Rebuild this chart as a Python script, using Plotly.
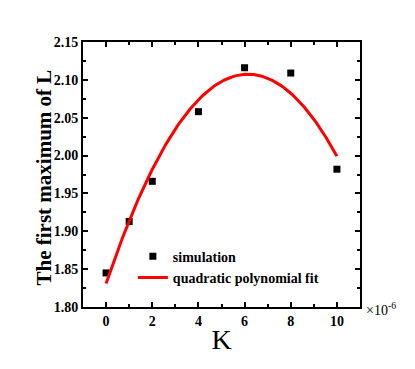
import numpy as np
import plotly.graph_objects as go

k_values = [0, 1, 2, 4, 6, 8, 10]
first_max_L = [1.845, 1.913, 1.966, 2.058, 2.116, 2.109, 1.982]

x_ticks = [0, 2, 4, 6, 8, 10]
y_ticks = [1.80, 1.85, 1.90, 1.95, 2.00, 2.05, 2.10, 2.15]

coef = np.polyfit(k_values, first_max_L, 2)
xfit = np.linspace(0, 10, 201)
yfit = np.polyval(coef, xfit)

font_family = "Liberation Serif, Times New Roman, serif"

fig = go.Figure()
fig.add_trace(go.Scatter(
    x=k_values, y=first_max_L, mode="markers", name="<b>simulation</b>",
    marker=dict(symbol="square", size=7, color="black"),
))
fig.add_trace(go.Scatter(
    x=xfit, y=yfit, mode="lines", name="<b>quadratic polynomial fit</b>",
    line=dict(color="#ff0000", width=3),
))

axis_common = dict(
    showline=True, linecolor="black", linewidth=2, mirror="allticks",
    ticks="inside", ticklen=5, tickwidth=1.5, tickcolor="black",
    showgrid=False, zeroline=False,
    tickfont=dict(family=font_family, size=14, color="black", weight="bold"),
)

fig.update_xaxes(
    range=[-1, 11], tickvals=x_ticks, ticktext=[f"<b>{v}</b>" for v in x_ticks],
    minor=dict(ticks="inside", ticklen=3, dtick=1, tick0=0, tickcolor="black", tickwidth=1.5),
    title=dict(text="K", font=dict(family=font_family, size=28, color="black"), standoff=2),
    **axis_common,
)
fig.update_yaxes(
    range=[1.80, 2.15], tickvals=y_ticks, ticktext=[f"<b>{v:.2f}</b>" for v in y_ticks],
    minor=dict(ticks="inside", ticklen=3, dtick=0.025, tick0=1.8, tickcolor="black", tickwidth=1.5),
    **axis_common,
)

# y-axis title as rotated annotation for precise placement
fig.add_annotation(
    x=0.0, y=0.5, xref="paper", yref="paper", xanchor="center", yanchor="middle",
    xshift=-40, yshift=-3, textangle=-90, showarrow=False,
    text="<b>The first maximum of L</b>",
    font=dict(family=font_family, size=21, color="black"),
)

fig.add_annotation(
    x=1.0, y=0.0, xref="paper", yref="paper", xanchor="left", yanchor="middle",
    xshift=4, yshift=-2, showarrow=False,
    text="×10<sup>-6</sup>", font=dict(family=font_family, size=14, color="black"),
)

fig.update_layout(
    width=407, height=361,
    margin=dict(l=75, r=55, t=34, b=62),
    paper_bgcolor="white", plot_bgcolor="white",
    showlegend=True,
    legend=dict(
        x=0.18, y=0.25, xanchor="left", yanchor="top",
        bgcolor="rgba(0,0,0,0)", borderwidth=0,
        font=dict(family=font_family, size=14, color="black"),
        tracegroupgap=0,
    ),
)

fig.write_html("out.html")
